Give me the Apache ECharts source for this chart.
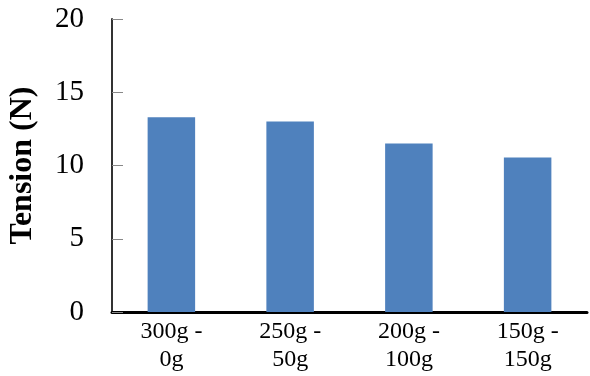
<!DOCTYPE html>
<html>
<head>
<meta charset="utf-8">
<script src="https://cdn.jsdelivr.net/npm/echarts@6/dist/echarts.min.js"></script>
<style>html,body{margin:0;padding:0;background:#fff}#c{width:590px;height:376px}</style>
</head>
<body>
<div id="c"></div>
<script>
const categories = ["300g -\n0g", "250g -\n50g", "200g -\n100g", "150g -\n150g"];
const tension = [13.3, 13.0, 11.5, 10.55];
const yTicks = [0, 5, 10, 15, 20];
const yName = "Tension (N)";

const chart = echarts.init(document.getElementById('c'), null, {renderer: 'canvas'});
chart.setOption({
  animation: false,
  grid: {left: 112, right: 3, top: 19, bottom: 64, containLabel: false, outerBoundsMode: 'none'},
  xAxis: {
    type: 'category',
    data: categories,
    axisLine: {show: true, lineStyle: {color: '#000', width: 3}},
    axisTick: {show: false},
    axisLabel: {fontFamily: 'Liberation Serif', fontSize: 24, color: '#000', lineHeight: 28, margin: 6}
  },
  yAxis: {
    type: 'value',
    min: yTicks[0], max: yTicks[yTicks.length - 1], interval: 5,
    name: yName,
    nameLocation: 'middle',
    nameGap: 73,
    nameTextStyle: {fontFamily: 'Liberation Serif', fontSize: 32, fontWeight: 'bold', color: '#000'},
    axisLine: {show: true, lineStyle: {color: '#333', width: 2}},
    axisTick: {show: true, inside: true, length: 11, lineStyle: {color: '#888', width: 1}},
    splitLine: {show: false},
    axisLabel: {fontFamily: 'Liberation Serif', fontSize: 29, color: '#000', margin: 28}
  },
  series: [{
    type: 'bar',
    data: tension,
    barWidth: '40%',
    itemStyle: {color: '#4F81BD'}
  }]
});
</script>
</body>
</html>
